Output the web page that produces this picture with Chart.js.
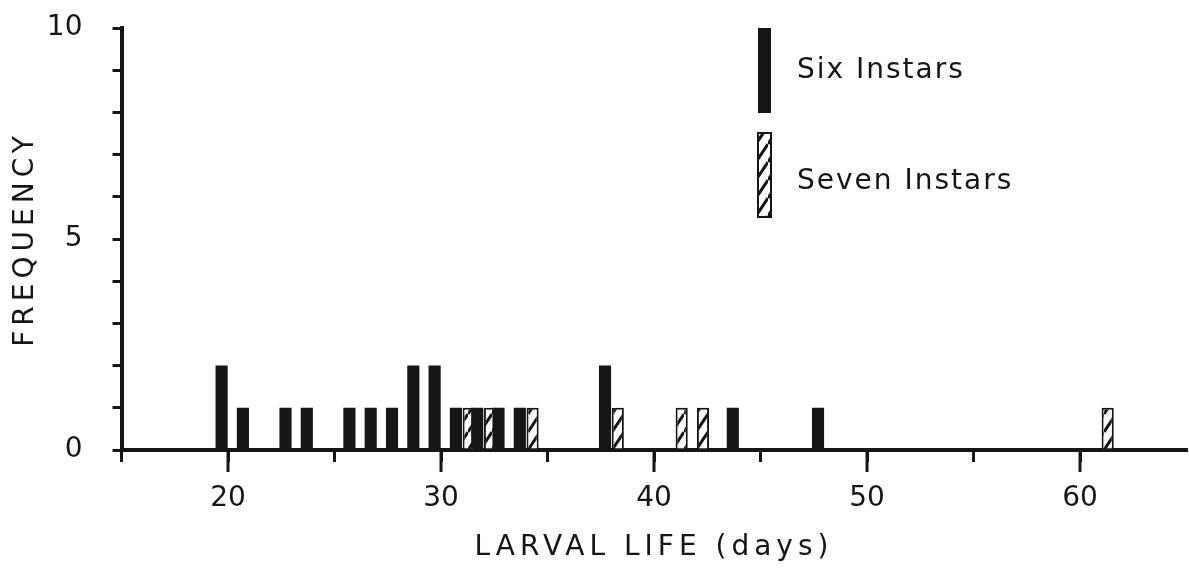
<!DOCTYPE html>
<html>
<head>
<meta charset="utf-8">
<script src="https://cdn.jsdelivr.net/npm/chart.js@4.4.0/dist/chart.umd.min.js"></script>
<style>
  html, body { margin: 0; padding: 0; background: #fff; }
  #caixa { width: 1189px; height: 571px; }
</style>
</head>
<body>
<div id="caixa"><canvas id="graficoLarvas"></canvas></div>
<script>
// Duração da vida larval (dias) e frequência
const diasSeis = [20, 21, 23, 24, 26, 27, 28, 29, 30, 31, 32, 33, 34, 38, 44, 48];
const freqSeis = [2, 1, 1, 1, 1, 1, 1, 2, 2, 1, 1, 1, 1, 2, 1, 1];
const diasSete = [31, 32, 34, 38, 41, 42, 61];
const freqSete = [1, 1, 1, 1, 1, 1, 1];
const rotulosX = [20, 30, 40, 50, 60];
const rotulosY = [0, 5, 10];

const preto = '#161616';
const fonte = '"DejaVu Sans", sans-serif';

// Padrão hachurado para as barras de sete ínstares
function criarHachura() {
  const c = document.createElement('canvas');
  c.width = 12;
  c.height = 18;
  const g = c.getContext('2d');
  g.fillStyle = '#fff';
  g.fillRect(0, 0, 12, 18);
  g.strokeStyle = preto;
  g.lineWidth = 3;
  [-18, 0, 18].forEach((d) => {
    g.beginPath();
    g.moveTo(0, 18 + d);
    g.lineTo(12, d);
    g.stroke();
  });
  return g.createPattern(c, 'repeat');
}

const hachura = criarHachura();

// Espaçamento de letras só nos títulos dos eixos
const espacamento = {
  id: 'espacamento',
  beforeDraw(chart) {
    chart.ctx.letterSpacing = '5px';
  },
  beforeDatasetsDraw(chart) {
    chart.ctx.letterSpacing = '0px';
  },
};

// Marcas maiores nas dezenas do eixo x
const marcasMaiores = {
  id: 'marcasMaiores',
  afterDraw(chart) {
    const ctx = chart.ctx;
    const x = chart.scales.x;
    ctx.save();
    ctx.strokeStyle = preto;
    ctx.lineWidth = 3;
    rotulosX.forEach((v) => {
      const px = x.getPixelForValue(v);
      ctx.beginPath();
      ctx.moveTo(px, x.top);
      ctx.lineTo(px, x.top + 22);
      ctx.stroke();
    });
    ctx.restore();
  },
};

// Legenda com as barras verticais, como na figura
const legenda = {
  id: 'legenda',
  afterDraw(chart) {
    const ctx = chart.ctx;
    const caixas = [
      { y: 28, h: 85, ty: 71 },
      { y: 133, h: 84, ty: 182 },
    ];
    chart.data.datasets.forEach((ds, i) => {
      const c = caixas[i];
      ctx.save();
      ctx.fillStyle = ds.backgroundColor;
      ctx.fillRect(758, c.y, 13, c.h);
      if (ds.borderWidth) {
        ctx.lineWidth = ds.borderWidth;
        ctx.strokeStyle = ds.borderColor;
        ctx.strokeRect(758, c.y, 13, c.h);
      }
      ctx.letterSpacing = '2px';
      ctx.fillStyle = preto;
      ctx.font = '28px ' + fonte;
      ctx.textBaseline = 'middle';
      ctx.fillText(ds.label, 797, c.ty);
      ctx.restore();
    });
  },
};

const ctx = document.getElementById('graficoLarvas').getContext('2d');
const graficoLarvas = new Chart(ctx, {
  type: 'bar',
  data: {
    datasets: [
      {
        label: 'Six Instars',
        data: diasSeis.map((d, i) => ({ x: d, y: freqSeis[i] })),
        backgroundColor: preto,
        borderWidth: 0,
      },
      {
        label: 'Seven Instars',
        data: diasSete.map((d, i) => ({ x: d, y: freqSete[i] })),
        backgroundColor: hachura,
        borderColor: preto,
        borderWidth: 2,
      },
    ],
  },
  options: {
    responsive: true,
    maintainAspectRatio: false,
    animation: false,
    categoryPercentage: 1.2,
    barPercentage: 0.95,
    layout: {
      padding: { top: 28, right: 2.5, bottom: 0, left: 0 },
    },
    scales: {
      x: {
        type: 'linear',
        min: 15,
        max: 65,
        offset: false,
        afterFit: (escala) => {
          escala.height = 121;
          escala.paddingLeft = 0;
          escala.paddingRight = 0;
        },
        ticks: {
          stepSize: 5,
          autoSkip: false,
          maxRotation: 0,
          padding: 20,
          color: preto,
          font: { family: fonte, size: 28 },
          z: 1,
          callback: (v) => (rotulosX.includes(v) ? v : ''),
        },
        grid: {
          offset: false,
          drawOnChartArea: false,
          drawTicks: true,
          tickLength: 12,
          lineWidth: 3,
          color: (c) => (c.tick && c.tick.value === 65 ? 'rgba(0,0,0,0)' : preto),
        },
        border: { display: true, width: 4, color: preto },
        title: {
          display: true,
          text: 'LARVAL LIFE (days)',
          color: preto,
          font: { family: fonte, size: 28 },
          padding: { top: 0, bottom: 6 },
        },
      },
      y: {
        min: 0,
        max: 10,
        afterFit: (escala) => {
          escala.width = 121.5;
          escala.paddingTop = 0;
          escala.paddingBottom = 0;
        },
        ticks: {
          stepSize: 1,
          autoSkip: false,
          padding: 30,
          color: preto,
          font: { family: fonte, size: 28 },
          z: 1,
          callback: (v) => (rotulosY.includes(v) ? v : ''),
        },
        grid: {
          drawOnChartArea: false,
          drawTicks: true,
          tickLength: 9,
          lineWidth: 3,
          color: preto,
        },
        border: { display: true, width: 4, color: preto },
        title: {
          display: true,
          text: 'FREQUENCY',
          color: preto,
          font: { family: fonte, size: 28 },
          padding: { top: 9, bottom: 0 },
        },
      },
    },
    plugins: {
      legend: { display: false },
      tooltip: { enabled: false },
    },
  },
  plugins: [espacamento, marcasMaiores, legenda],
});
</script>
</body>
</html>
